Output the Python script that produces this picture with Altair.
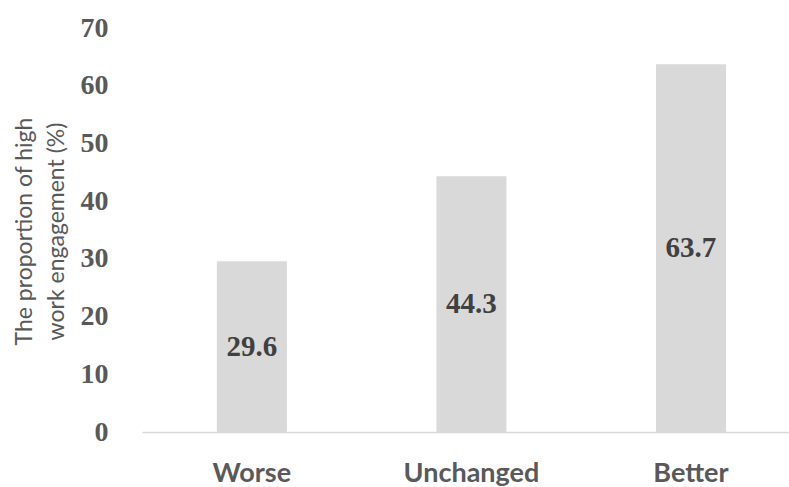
import altair as alt
import pandas as pd

categories = ["Worse", "Unchanged", "Better"]
values = [29.6, 44.3, 63.7]
y_ticks = [0, 10, 20, 30, 40, 50, 60, 70]

df = pd.DataFrame({"cat": categories, "val": values})
df["mid"] = df["val"] / 2
df["lab"] = [f"{v:.1f}" for v in values]

x_enc = alt.X(
    "cat:N",
    sort=categories,
    scale=alt.Scale(paddingInner=0.681, paddingOuter=0.314, align=0.543),
    axis=alt.Axis(
        title=None,
        labelAngle=0,
        labelFont="Lato",
        labelFontWeight="bold",
        labelFontSize=27,
        labelColor="#595959",
        labelBaseline="alphabetic",
        labelPadding=49,
        ticks=False,
        tickSize=0,
        domainColor="#d9d9d9",
        domainWidth=1.5,
        grid=False,
    ),
)

bars = alt.Chart(df).mark_bar(color="#d9d9d9").encode(
    x=x_enc,
    y=alt.Y(
        "val:Q",
        scale=alt.Scale(domain=[0, 70], nice=False),
        axis=alt.Axis(
            values=y_ticks,
            title=["The proportion of high", "work engagement (%)"],
            titleFont="Lato",
            titleFontWeight="normal",
            titleFontSize=23,
            titleColor="#595959",
            titleAngle=-90,
            titleAlign="center",
            titleBaseline="middle",
            titleLineHeight=32,
            titleX=-118,
            titleY=203,
            labelFont="Liberation Serif",
            labelFontWeight="bold",
            labelFontSize=28,
            labelColor="#595959",
            labelPadding=34,
            ticks=False,
            tickSize=0,
            domain=False,
            grid=False,
        ),
    ),
)

text = alt.Chart(df).mark_text(
    font="Liberation Serif",
    fontWeight="bold",
    fontSize=29,
    color="#404040",
    baseline="middle",
    align="center",
).encode(
    x=alt.X("cat:N", sort=categories),
    y=alt.Y("mid:Q"),
    text="lab:N",
)

chart = (
    alt.layer(bars, text)
    .properties(
        width=647,
        height=404,
        autosize=alt.AutoSizeParams(type="none"),
        padding={"left": 142, "top": 28, "right": 0, "bottom": 55},
        background="white",
    )
    .configure_view(strokeWidth=0, stroke="transparent")
)

chart.save("out.html", embed_options={"renderer": "svg", "actions": False})
